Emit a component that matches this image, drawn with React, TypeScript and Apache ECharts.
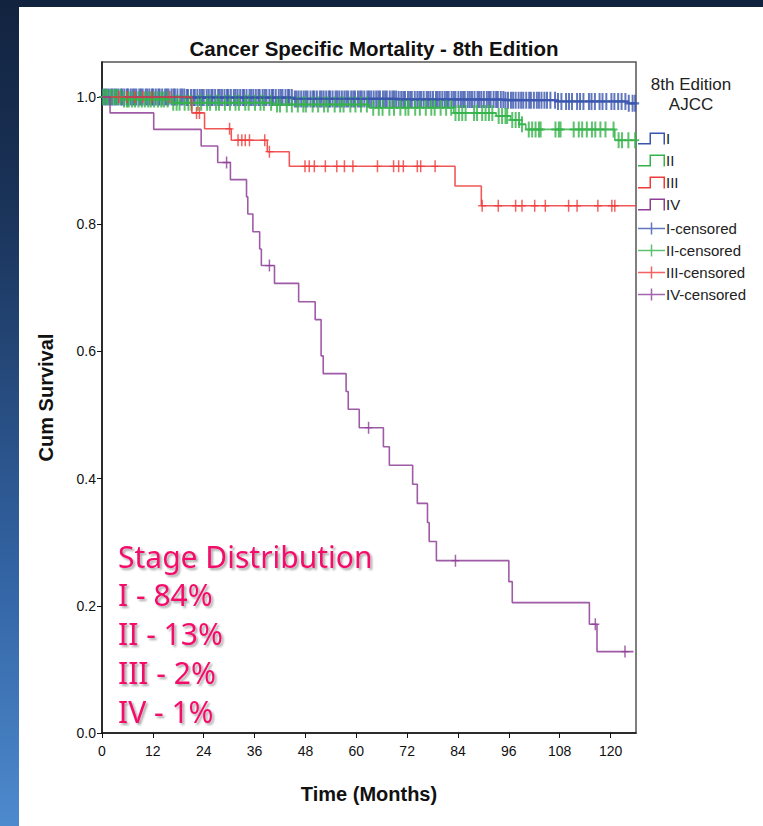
import React, { useEffect, useRef } from 'react';
import * as echarts from 'echarts';

// ---------- data ----------
const xTicks = [0, 12, 24, 36, 48, 60, 72, 84, 96, 108, 120];
const yTicks = [0, 0.2, 0.4, 0.6, 0.8, 1.0];

const stageNames = ['I', 'II', 'III', 'IV'];
const censoredNames = ['I-censored', 'II-censored', 'III-censored', 'IV-censored'];

const stageITimes = [0, 20, 45, 70, 95, 107, 124, 126];
const stageISurv = [1, 0.999, 0.997, 0.996, 0.995, 0.993, 0.99, 0.99];
const stageICensored = [
  0.2, 0.7, 1.1, 1.6, 2.2, 2.5, 3.0, 3.4, 3.9, 4.5, 4.8, 5.3, 5.9, 6.2, 6.8, 7.3, 7.7, 8.1, 8.8, 9.2,
  9.6, 10.3, 10.7, 11.2, 11.8, 12.1, 12.7, 13.3, 13.6, 14.2, 14.9, 15.3, 15.7, 16.4, 16.9, 17.2, 17.8,
  18.5, 18.9, 19.4, 20.0, 20.3, 21.0, 21.6, 21.9, 22.5, 23.1, 23.6, 24.0, 24.7, 25.2, 25.8, 26.1, 26.7,
  27.4, 27.8, 28.3, 28.9, 29.5, 29.8, 30.4, 31.1, 31.5, 32.0, 32.6, 33.2, 33.5, 34.1, 34.8, 35.2, 35.7,
  36.3, 36.9, 37.2, 37.9, 38.4, 38.8, 39.5, 40.1, 40.4, 41.0, 41.7, 42.2, 42.6, 43.3, 43.9, 44.2, 44.8,
  45.5, 45.9, 46.4, 47.0, 47.6, 48.1, 48.5, 49.2, 49.8, 50.1, 50.7, 51.4, 51.8, 52.3, 52.9, 53.5, 53.8,
  54.4, 55.1, 55.5, 56.0, 56.6, 57.2, 57.7, 58.1, 58.8, 59.3, 59.7, 60.4, 60.9, 61.3, 61.9, 62.6, 63.0,
  63.5, 64.1, 64.7, 65.2, 65.6, 66.3, 66.8, 67.2, 67.9, 68.5, 68.9, 69.4, 70.0, 70.6, 71.1, 71.5, 72.2,
  72.7, 73.1, 73.8, 74.4, 74.9, 75.3, 75.9, 76.6, 77.0, 77.5, 78.1, 78.8, 79.2, 79.7, 80.3, 80.9, 81.4,
  81.8, 82.5, 83.0, 83.4, 84.1, 84.7, 85.2, 85.6, 86.3, 86.8, 87.3, 87.9, 88.6, 89.0, 89.5, 90.1, 90.8,
  91.3, 91.7, 92.4, 93.0, 93.4, 94.1, 94.7, 95.2, 95.8, 96.5, 97.0, 97.6, 98.3, 98.9, 99.4, 100.1, 100.8,
  101.2, 101.9, 102.6, 103.1, 103.7, 104.4, 105.0, 105.8, 106.9, 107.6, 108.4, 109.5, 110.2, 110.9,
  112.1, 112.8, 113.6, 114.9, 115.5, 116.3, 117.4, 118.1, 119.0, 120.2, 120.9, 121.8, 122.6, 123.5,
  124.3, 125.2, 125.8,
];

const stageIITimes = [0, 5, 16.5, 40, 63, 83, 93, 96.4, 98.5, 100, 121, 126];
const stageIISurv = [1, 0.996, 0.991, 0.988, 0.983, 0.975, 0.97, 0.964, 0.957, 0.949, 0.932, 0.932];
const stageIICensored = [
  0.3, 0.8, 1.2, 1.9, 2.4, 3.1, 3.6, 4.4, 5.2, 5.9, 6.3, 7.1, 7.8, 8.6, 9.4, 10.1, 10.9, 11.5, 12.3,
  13.2, 14.0, 14.6, 15.5, 16.8, 17.6, 18.3, 19.5, 20.4, 21.1, 22.6, 23.4, 24.8, 25.5, 26.9, 27.6, 29.0,
  30.2, 31.5, 32.3, 33.8, 34.6, 36.1, 37.4, 38.2, 39.9, 41.3, 42.0, 43.6, 44.8, 46.2, 47.5, 48.1, 49.7,
  51.0, 52.4, 53.3, 54.9, 56.2, 57.0, 58.6, 59.8, 61.1, 62.5, 64.0, 65.3, 66.2, 67.8, 68.9, 70.4, 71.6,
  72.3, 73.9, 75.0, 76.4, 77.7, 78.5, 79.9, 81.2, 82.4, 83.4, 84.2, 85.0, 85.8, 87.8, 88.5, 89.7, 90.5,
  91.3, 92.1, 93.6, 94.4, 95.2, 95.6, 96.8, 97.6, 98.4, 99.1, 100.7, 101.5, 102.3, 103.1, 103.5, 107.0,
  107.8, 108.2, 111.3, 112.5, 113.3, 114.4, 115.6, 116.4, 117.6, 118.8, 120.7, 121.9, 122.7, 124.2, 125.8,
];

const stageIIITimes = [0, 21.2, 24.2, 30.5, 39.0, 44.2, 83.3, 89.5, 126];
const stageIIISurv = [1, 0.975, 0.95, 0.932, 0.914, 0.891, 0.86, 0.829, 0.829];
const stageIIICensored = [
  4.0, 5.9, 7.8, 9.6, 11.8, 16.0, 22.3, 23.0, 30.1, 32.1, 33.0, 33.8, 34.8, 38.4, 39.5, 47.9, 48.9,
  50.1, 52.7, 55.4, 57.2, 59.2, 65.0, 68.8, 70.0, 71.1, 74.4, 75.2, 78.6, 89.7, 93.5, 97.6, 99.1,
  102.1, 104.6, 110.1, 112.1, 117.0, 120.3, 121.0,
];

const stageIVTimes = [
  0, 1.9, 12.2, 23.4, 27.3, 30.3, 34.1, 34.4, 35.6, 37.2, 37.6, 40.7, 46.4, 50.3, 51.7, 52.2, 57.6,
  58.1, 60.7, 66.4, 67.8, 73.3, 74.4, 76.8, 77.2, 78.9, 96.0, 96.8, 115.0, 116.8, 125.4,
];
const stageIVSurv = [
  1, 0.975, 0.949, 0.923, 0.897, 0.87, 0.843, 0.816, 0.788, 0.761, 0.735, 0.707, 0.678, 0.65, 0.593,
  0.565, 0.537, 0.509, 0.48, 0.45, 0.421, 0.391, 0.361, 0.331, 0.301, 0.271, 0.238, 0.205, 0.171,
  0.128, 0.128,
];
const stageIVCensored = [29.4, 39.5, 62.9, 83.4, 116.4, 123.4];

const distributionLines = ['Stage Distribution', 'I - 84%', 'II - 13%', 'III - 2%', 'IV - 1%'];

// ---------- styling ----------
const colors = ['#3a55ad', '#35b34a', '#f03a3a', '#8e3e97'];
const SANS = "'Liberation Sans', Arial, sans-serif";
const PINK = '#f2106a';

const plusThin = 'path://M0,6.25H3.25V0H4.75V6.25H8V7.75H4.75V14H3.25V7.75H0Z';
const plusBold = 'path://M0,7H3V0H5V7H8V9H5V16H3V9H0Z';
const stepIcon = 'path://M0,10.5H11.5V0H27V12H25.5V1.5H13V12H0Z';
const plusIcon = 'path://M0,5.25H12.75V0H14.25V5.25H27V6.75H14.25V12H12.75V6.75H0Z';

function survAt(times: number[], surv: number[], t: number): number {
  let v = surv[0];
  for (let i = 0; i < times.length; i++) {
    if (times[i] <= t) v = surv[i];
  }
  return v;
}

function buildOption() {
  const curves = [
    { t: stageITimes, s: stageISurv, c: stageICensored, sym: plusBold, size: [8, 17] },
    { t: stageIITimes, s: stageIISurv, c: stageIICensored, sym: plusBold, size: [8, 16] },
    { t: stageIIITimes, s: stageIIISurv, c: stageIIICensored, sym: plusThin, size: [8, 12] },
    { t: stageIVTimes, s: stageIVSurv, c: stageIVCensored, sym: plusThin, size: [8, 12] },
  ];
  const series: any[] = [];
  curves.forEach((cv, i) => {
    series.push({
      type: 'line',
      name: stageNames[i],
      step: 'end',
      data: cv.t.map((t, k) => [t, cv.s[k]]),
      symbol: 'none',
      lineStyle: { color: colors[i], width: 1.6, opacity: 0.85 },
      itemStyle: { color: colors[i] },
      clip: true,
    });
    series.push({
      type: 'scatter',
      name: censoredNames[i],
      data: cv.c.map((t) => [t, survAt(cv.t, cv.s, t)]),
      symbol: cv.sym,
      symbolSize: cv.size,
      itemStyle: { color: colors[i] },
      clip: true,
    });
  });

  const legendCommon = {
    orient: 'vertical',
    left: 638,
    itemWidth: 27,
    itemHeight: 12,
    itemGap: 7,
    padding: 0,
    selectedMode: false,
    itemStyle: { borderWidth: 0 },
    textStyle: { fontSize: 15, fontFamily: SANS, color: '#222', padding: [0, 0, 0, -4] },
  };

  return {
    animation: false,
    backgroundColor: 'transparent',
    title: {
      text: 'Cancer Specific Mortality - 8th Edition',
      left: 369,
      textAlign: 'center',
      top: 33,
      textStyle: { fontSize: 20.5, fontWeight: 'bold', fontFamily: SANS, color: '#111' },
    },
    grid: {
      left: 102,
      right: 127,
      top: 62,
      bottom: 93,
      show: true,
      borderColor: '#555',
      borderWidth: 1.5,
      backgroundColor: 'transparent',
    },
    xAxis: {
      type: 'value',
      min: 0,
      max: 126,
      interval: 12,
      axisLine: { show: true, onZero: false, lineStyle: { color: '#111', width: 1.5 } },
      axisTick: { show: true, length: 5, lineStyle: { color: '#111' }, customValues: xTicks },
      axisLabel: {
        customValues: xTicks,
        margin: 11,
        fontSize: 14,
        fontFamily: SANS,
        color: '#111',
      },
      splitLine: { show: false },
      name: 'Time (Months)',
      nameLocation: 'middle',
      nameGap: 51,
      nameTextStyle: { fontSize: 20, fontWeight: 'bold', fontFamily: SANS, color: '#111' },
    },
    yAxis: {
      type: 'value',
      min: 0,
      max: 1.055,
      interval: 0.2,
      axisLine: { show: true, onZero: false, lineStyle: { color: '#111', width: 1.5 } },
      axisTick: { show: true, length: 5, lineStyle: { color: '#111' }, customValues: yTicks },
      axisLabel: {
        customValues: yTicks,
        margin: 6,
        fontSize: 14,
        fontFamily: SANS,
        color: '#111',
        formatter: (v: number) => v.toFixed(1),
      },
      splitLine: { show: false },
      name: 'Cum Survival',
      nameLocation: 'middle',
      nameGap: 46,
      nameRotate: 90,
      nameTextStyle: { fontSize: 20, fontWeight: 'bold', fontFamily: SANS, color: '#111' },
    },
    legend: [
      {
        ...legendCommon,
        top: 131,
        data: stageNames.map((n) => ({ name: n, icon: stepIcon })),
      },
      {
        ...legendCommon,
        top: 221,
        data: censoredNames.map((n) => ({ name: n, icon: plusIcon })),
      },
    ],
    graphic: [
      {
        type: 'text',
        x: 691,
        y: 76,
        style: {
          text: '8th Edition',
          fontSize: 17,
          fontFamily: SANS,
          fill: '#222',
          align: 'center',
        },
      },
      {
        type: 'text',
        x: 691,
        y: 96,
        style: {
          text: 'AJCC',
          fontSize: 17,
          fontFamily: SANS,
          fill: '#222',
          align: 'center',
        },
      },
      ...distributionLines.map((line, i) => ({
        type: 'text',
        x: 118,
        y: 556 + i * 38.8,
        style: {
          text: line,
          fontSize: 30,
          fontFamily: "'Noto Sans', 'Open Sans', sans-serif",
          fill: PINK,
          verticalAlign: 'middle',
          textShadowColor: 'rgba(0,0,0,0.35)',
          textShadowBlur: 2,
          textShadowOffsetX: 2,
          textShadowOffsetY: 2,
        },
        z: 10,
      })),
    ],
    series,
  };
}

export default function App() {
  const ref = useRef<HTMLDivElement>(null);
  useEffect(() => {
    if (!ref.current) return;
    const chart = echarts.init(ref.current, null, { renderer: 'svg' });
    chart.setOption(buildOption() as any);
    return () => chart.dispose();
  }, []);
  return (
    <div
      style={{
        position: 'fixed',
        left: 0,
        top: 0,
        width: 763,
        height: 826,
        background: '#12233f',
        overflow: 'hidden',
      }}
    >
      <div
        style={{
          position: 'absolute',
          left: 0,
          top: 0,
          width: 19,
          height: 826,
          background: 'linear-gradient(#12233f 0%, #1a3359 25%, #3364a4 70%, #4d8acd 100%)',
        }}
      />
      <div style={{ position: 'absolute', left: 19, top: 7, right: 0, bottom: 0, background: '#fff' }} />
      <div ref={ref} style={{ position: 'absolute', left: 0, top: 0, width: 763, height: 826 }} />
    </div>
  );
}
